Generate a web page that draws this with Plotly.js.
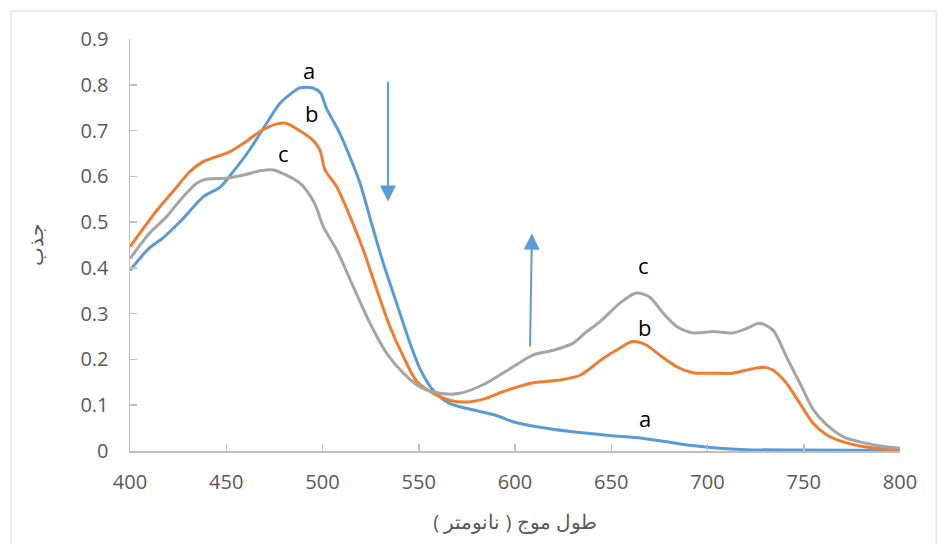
<!DOCTYPE html>
<html>
<head>
<meta charset="utf-8">
<script src="https://cdn.plot.ly/plotly-3.0.1.min.js"></script>
<style>body{margin:0;padding:0;background:#fff;} #chart{width:938px;height:544px;}</style>
</head>
<body>
<div id="chart"></div>
<script>
// Series a (blue)
var wlA = [400, 410, 417, 427, 438, 447, 453, 462, 471, 478, 485, 488, 495, 499, 502, 509, 514, 519.5, 525.5, 531.6, 538.5, 545.5, 550.6, 557.6, 566, 578, 590, 599, 613, 630, 649, 666, 679, 692, 706, 720, 750, 800];
var absA = [0.395, 0.443, 0.465, 0.505, 0.555, 0.577, 0.607, 0.657, 0.716, 0.76, 0.785, 0.793, 0.793, 0.782, 0.749, 0.694, 0.645, 0.585, 0.497, 0.41, 0.323, 0.235, 0.18, 0.132, 0.104, 0.09, 0.078, 0.064, 0.052, 0.042, 0.034, 0.028, 0.02, 0.012, 0.006, 0.003, 0.002, 0.001];
// Series b (orange)
var wlB = [400, 414, 423, 431, 438, 445, 452, 459, 467.5, 476, 481, 488, 495, 498.7, 501.3, 507.4, 514.3, 521.2, 528.2, 535, 542, 549, 557.6, 566, 575, 585, 594, 609.5, 623.4, 634, 645, 654.5, 661, 668, 675, 684, 692.5, 703, 713, 720.5, 729, 734, 741, 748, 755, 762, 770.5, 779, 788, 800];
var absB = [0.446, 0.526, 0.57, 0.61, 0.632, 0.643, 0.654, 0.672, 0.698, 0.714, 0.716, 0.70, 0.679, 0.657, 0.614, 0.577, 0.512, 0.439, 0.352, 0.272, 0.206, 0.152, 0.126, 0.111, 0.107, 0.115, 0.13, 0.149, 0.155, 0.166, 0.2, 0.225, 0.239, 0.232, 0.21, 0.184, 0.171, 0.17, 0.17, 0.177, 0.183, 0.177, 0.148, 0.104, 0.06, 0.035, 0.02, 0.011, 0.006, 0.002];
// Series c (gray)
var wlC = [400, 410, 419, 427.5, 434.7, 440, 450, 459, 467.5, 474.5, 481, 488.3, 494, 497, 500.4, 507.4, 516, 524.7, 533.4, 542, 550.6, 561, 571.4, 585, 599, 609.5, 620, 630, 637, 644, 654.5, 663, 670, 677, 684, 692.5, 703, 713, 720.5, 727, 734, 741, 748, 755, 762, 770.5, 779, 790, 800];
var absC = [0.42, 0.475, 0.512, 0.555, 0.585, 0.594, 0.596, 0.603, 0.612, 0.614, 0.603, 0.585, 0.555, 0.53, 0.49, 0.439, 0.359, 0.279, 0.213, 0.17, 0.14, 0.126, 0.126, 0.148, 0.184, 0.21, 0.22, 0.235, 0.26, 0.282, 0.323, 0.345, 0.336, 0.301, 0.272, 0.258, 0.261, 0.258, 0.268, 0.279, 0.264, 0.206, 0.148, 0.09, 0.057, 0.031, 0.02, 0.011, 0.006];

// Curve labels
var labelText = ['a', 'b', 'c', 'c', 'b', 'a'];
var labelX = [493, 494.5, 479.5, 667, 667.5, 667.5];
var labelY = [0.832, 0.738, 0.651, 0.406, 0.271, 0.072];

// Arrows: [tailX, tailY, tipX, tipY]
var arrowDown = [534, 0.81, 534, 0.545];
var arrowUp = [607.8, 0.225, 608.8, 0.475];

var xTicks = [400, 450, 500, 550, 600, 650, 700, 750, 800];
var yTicks = [0, 0.1, 0.2, 0.3, 0.4, 0.5, 0.6, 0.7, 0.8, 0.9];
var xTitle = 'طول موج ( نانومتر )';
var yTitle = 'جذب';

function mk(x, y, color) {
  return {x: x, y: y, type: 'scatter', mode: 'lines',
    line: {color: color, width: 3, shape: 'spline', smoothing: 0.8},
    hoverinfo: 'skip', showlegend: false};
}
var traces = [mk(wlA, absA, '#5B9BD5'), mk(wlB, absB, '#ED7D31'), mk(wlC, absC, '#A5A5A5')];

var annotations = labelText.map(function (t, i) {
  return {x: labelX[i], y: labelY[i], xref: 'x', yref: 'y', text: t, showarrow: false,
    font: {family: 'Open Sans, sans-serif', size: 22, color: '#000'}};
});
[arrowDown, arrowUp].forEach(function (a) {
  annotations.push({x: a[2], y: a[3], ax: a[0], ay: a[1], xref: 'x', yref: 'y', axref: 'x', ayref: 'y',
    text: '', showarrow: true, arrowhead: 2, arrowsize: 1.6, arrowwidth: 2, arrowcolor: '#5B9BD5'});
});

var axisCommon = {showgrid: false, zeroline: false, showline: true, linecolor: '#BFBFBF', linewidth: 1.5,
  ticks: 'inside', ticklen: 7, tickwidth: 1.5, tickcolor: '#BFBFBF',
  tickfont: {family: 'Open Sans, sans-serif', size: 20, color: '#595959'}};

var layout = {
  width: 938, height: 544,
  margin: {l: 130, r: 38, t: 39, b: 93},
  paper_bgcolor: '#fff', plot_bgcolor: '#fff',
  xaxis: Object.assign({}, axisCommon, {range: [400, 800], tickvals: xTicks, ticktext: xTicks.map(String),
    ticklabelstandoff: 12,
    title: {text: xTitle, font: {family: 'Open Sans, sans-serif', size: 20, color: '#595959'}, standoff: 21}}),
  yaxis: Object.assign({}, axisCommon, {range: [0, 0.9], tickvals: yTicks, ticktext: yTicks.map(String),
    ticklabelstandoff: 16,
    title: {text: yTitle, font: {family: 'Open Sans, sans-serif', size: 20, color: '#595959'}, standoff: 31}}),
  annotations: annotations,
  shapes: [{type: 'rect', xref: 'paper', yref: 'paper', x0: -0.1545, x1: 1.047, y0: -0.32, y1: 1.068,
    line: {color: '#D9D9D9', width: 1}, fillcolor: 'rgba(0,0,0,0)', layer: 'below'}]
};

Plotly.newPlot('chart', traces, layout, {staticPlot: true, displayModeBar: false});
</script>
</body>
</html>
